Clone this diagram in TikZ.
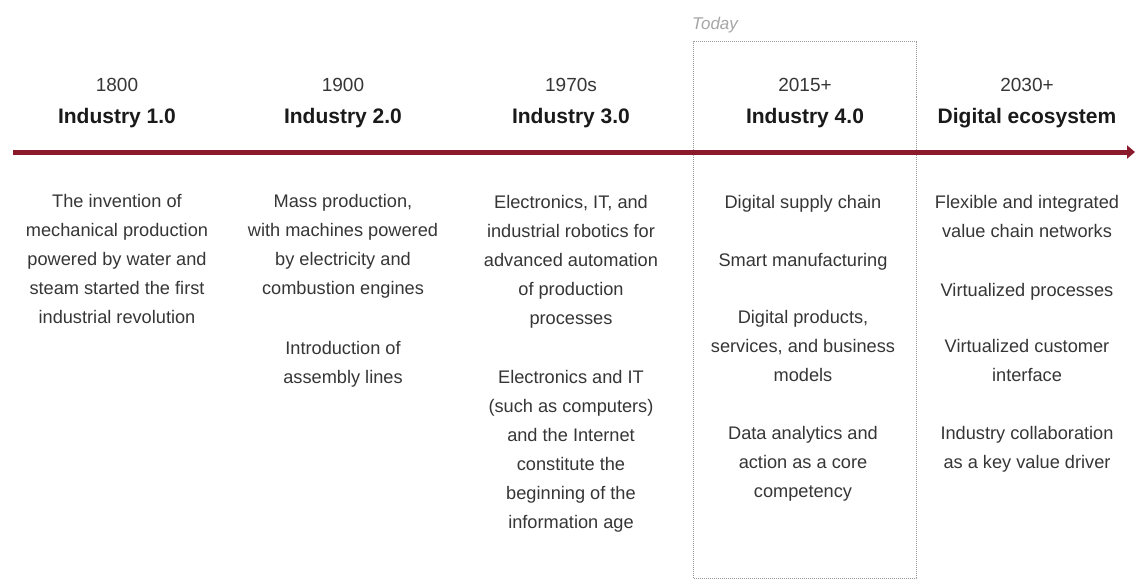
\documentclass[tikz,border=0pt]{standalone}
\usepackage{fontspec}
\setmainfont{Liberation Sans}
\usetikzlibrary{arrows.meta}
\definecolor{axisred}{HTML}{8A1A2B}
\definecolor{bodytext}{HTML}{363636}
\definecolor{titletext}{HTML}{1A1A1A}
\definecolor{boxgray}{HTML}{9A9A9A}
\definecolor{todaygray}{HTML}{A6A6A6}
\begin{document}
\begin{tikzpicture}[x=1pt,y=-1pt,
  yearlabel/.style={font=\fontsize{19}{22}\selectfont, text=bodytext, inner sep=0, anchor=base},
  titlelabel/.style={font=\bfseries\fontsize{21}{24}\selectfont, text=titletext, inner sep=0, anchor=base},
  bodytxt/.style={font=\fontsize{18.2}{29}\selectfont, text=bodytext, align=center, inner sep=0, anchor=north},
  todaylabel/.style={font=\itshape\fontsize{17}{20}\selectfont, text=todaygray, inner sep=0, anchor=base west},
]
\useasboundingbox[fill=white] (0,0) rectangle (1135,581);

% Today box
\node[draw=boxgray, dash pattern=on 1pt off 1pt, line width=1pt, minimum width=223pt, minimum height=537pt, anchor=north west, inner sep=0] (todaybox) at (693,41) {};
\node[todaylabel] (today) at (692,29) {Today};

% axis
\coordinate (axisstart) at (13,152);
\coordinate (axisend) at (1135,152);
\draw[axisred, line width=5pt, -{Triangle[length=8pt,width=13pt]}] (axisstart) -- (axisend);

% headings
\node[yearlabel] (y1) at (117,91) {1800};
\node[titlelabel] (t1) at (117,123) {Industry 1.0};
\node[yearlabel] (y2) at (343,91) {1900};
\node[titlelabel] (t2) at (343,123) {Industry 2.0};
\node[yearlabel] (y3) at (571,91) {1970s};
\node[titlelabel] (t3) at (571,123) {Industry 3.0};
\node[yearlabel] (y4) at (805,91) {2015+};
\node[titlelabel] (t4) at (805,123) {Industry 4.0};
\node[yearlabel] (y5) at (1027,91) {2030+};
\node[titlelabel] (t5) at (1027,123) {Digital ecosystem};

% column 1
\node[bodytxt] (c1a) at (117,194) {The invention of\\mechanical production\\powered by water and\\steam started the first\\industrial revolution};

% column 2
\node[bodytxt] (c2a) at (343,194) {Mass production,\\with machines powered\\by electricity and\\combustion engines};
\node[bodytxt] (c2b) at (343,341) {Introduction of\\assembly lines};

% column 3
\node[bodytxt] (c3a) at (571,195) {Electronics, IT, and\\industrial robotics for\\advanced automation\\of production\\processes};
\node[bodytxt] (c3b) at (571,370) {Electronics and IT\\(such as computers)\\and the Internet\\constitute the\\beginning of the\\information age};

% column 4
\node[bodytxt] (c4a) at (803,195) {Digital supply chain};
\node[bodytxt] (c4b) at (803,253) {Smart manufacturing};
\node[bodytxt] (c4c) at (803,310) {Digital products,\\services, and business\\models};
\node[bodytxt] (c4d) at (803,426) {Data analytics and\\action as a core\\competency};

% column 5
\node[bodytxt] (c5a) at (1027,195) {Flexible and integrated\\value chain networks};
\node[bodytxt] (c5b) at (1027,283) {Virtualized processes};
\node[bodytxt] (c5c) at (1027,339) {Virtualized customer\\interface};
\node[bodytxt] (c5d) at (1027,426) {Industry collaboration\\as a key value driver};
\end{tikzpicture}
\end{document}
